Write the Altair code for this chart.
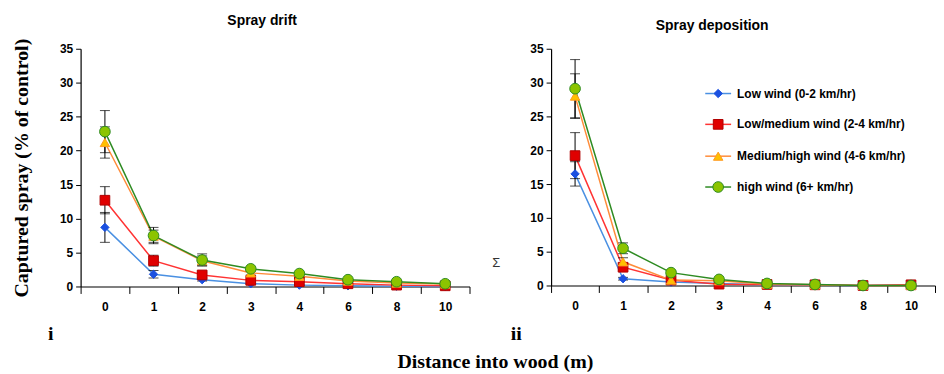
import altair as alt
import pandas as pd

distances = ["0", "1", "2", "3", "4", "6", "8", "10"]
series = ["Low wind (0-2 km/hr)", "Low/medium wind (2-4 km/hr)",
          "Medium/high wind (4-6 km/hr)", "high wind (6+ km/hr)"]

# Spray drift (panel i)
drift_low = [8.7, 1.8, 1.0, 0.4, 0.2, 0.1, 0.05, 0.0]
drift_lowmed = [12.7, 3.8, 1.7, 0.9, 0.7, 0.4, 0.2, 0.1]
drift_medhigh = [21.2, 7.4, 3.8, 2.0, 1.5, 0.8, 0.5, 0.35]
drift_high = [22.8, 7.5, 3.9, 2.6, 1.9, 1.0, 0.7, 0.4]
drift_low_err = [2.2, 0.55, 0.2, 0.1, 0.05, 0.05, 0.0, 0.0]
drift_lowmed_err = [2.0, 0.8, 0.4, 0.2, 0.1, 0.1, 0.05, 0.05]
drift_medhigh_err = [2.3, 0.9, 0.7, 0.3, 0.2, 0.1, 0.1, 0.05]
drift_high_err = [3.1, 1.2, 0.9, 0.3, 0.2, 0.1, 0.1, 0.1]

# Spray deposition (panel ii)
dep_low = [16.5, 1.0, 0.5, 0.3, 0.1, 0.05, 0.0, 0.1]
dep_lowmed = [19.2, 2.7, 0.8, 0.2, 0.15, 0.1, 0.0, 0.1]
dep_medhigh = [28.0, 3.5, 0.8, 0.7, 0.2, 0.1, 0.0, 0.0]
dep_high = [29.1, 5.5, 1.9, 0.9, 0.3, 0.15, 0.0, 0.0]
dep_low_err = [1.8, 0.2, 0.1, 0.05, 0.0, 0.0, 0.0, 0.0]
dep_lowmed_err = [3.4, 0.4, 0.2, 0.05, 0.0, 0.0, 0.0, 0.0]
dep_medhigh_err = [3.3, 0.6, 0.2, 0.1, 0.0, 0.0, 0.0, 0.0]
dep_high_err = [4.3, 0.8, 0.3, 0.2, 0.05, 0.0, 0.0, 0.0]

y_ticks = [0, 5, 10, 15, 20, 25, 30, 35]

styles = {
    series[0]: dict(line="#4A90E2", fill="#1A50E0", edge="#1A50E0", shape="diamond", size=70),
    series[1]: dict(line="#FF3333", fill="#E00000", edge="#B00000", shape="square", size=95),
    series[2]: dict(line="#FF8C3A", fill="#FFC000", edge="#FF9A20", shape="triangle-up", size=90),
    series[3]: dict(line="#2E8B22", fill="#8CC400", edge="#2E8B22", shape="circle", size=115),
}


def build_df(vals, errs):
    rows = []
    for s, v, e in zip(series, vals, errs):
        for d, vv, ee in zip(distances, v, e):
            rows.append(dict(d=d, s=s, v=vv, lo=max(vv - ee, 0), hi=vv + ee, e=ee))
    return pd.DataFrame(rows)


drift_df = build_df([drift_low, drift_lowmed, drift_medhigh, drift_high],
                    [drift_low_err, drift_lowmed_err, drift_medhigh_err, drift_high_err])
dep_df = build_df([dep_low, dep_lowmed, dep_medhigh, dep_high],
                  [dep_low_err, dep_lowmed_err, dep_medhigh_err, dep_high_err])

LABEL_FONT = "Liberation Sans"
SERIF = "Liberation Serif"


def x_enc():
    return alt.X("d:N", sort=distances,
                 scale=alt.Scale(type="band", paddingInner=0, paddingOuter=0),
                 axis=alt.Axis(title=None, labelAngle=0, tickBand="extent",
                               labelFont=LABEL_FONT, labelFontSize=12, labelFontWeight="bold",
                               labelColor="black", domainColor="black", tickColor="black",
                               tickSize=7, labelPadding=8, domainWidth=1.2))


def y_enc(field, ytitle):
    kwargs = dict(scale=alt.Scale(domain=[0, 35], nice=False, zero=True),
                  axis=alt.Axis(values=y_ticks, grid=False, labelFont=LABEL_FONT,
                                labelFontSize=12, labelFontWeight="bold", labelColor="black",
                                domainColor="black", tickColor="black", tickSize=5,
                                labelPadding=3, domainWidth=1.2,
                                titleFont=SERIF, titleFontSize=20, titleFontWeight="bold",
                                titleColor="black", titlePadding=28),
                  title=ytitle)
    return alt.Y(field, **kwargs)


def panel(df, ytitle):
    base = alt.Chart(df)
    layers = []
    for s in series:
        st = styles[s]
        layers.append(base.transform_filter(alt.datum.s == s).mark_line(
            color=st["line"], strokeWidth=1.5).encode(x=x_enc(), y=y_enc("v:Q", ytitle)))
    err = base.transform_filter(alt.datum.e > 0)
    layers.append(err.mark_rule(color="black", strokeWidth=1).encode(
        x=x_enc(), y=y_enc("lo:Q", ytitle), y2="hi:Q"))
    layers.append(err.mark_tick(color="black", size=10, thickness=1).encode(
        x=x_enc(), y=y_enc("lo:Q", ytitle)))
    layers.append(err.mark_tick(color="black", size=10, thickness=1).encode(
        x=x_enc(), y=y_enc("hi:Q", ytitle)))
    for s in series:
        st = styles[s]
        layers.append(base.transform_filter(alt.datum.s == s).mark_point(
            filled=True, shape=st["shape"], size=st["size"], color=st["fill"],
            stroke=st["edge"], strokeWidth=1, opacity=1).encode(
            x=x_enc(), y=y_enc("v:Q", ytitle)))
    return layers


one = pd.DataFrame({"k": [0]})

left_layers = panel(drift_df, "Captured spray (% of control)")
left_layers.append(alt.Chart(one).mark_text(text="i", font=SERIF, fontSize=20, fontWeight="bold",
                                            color="black").encode(x=alt.value(-30), y=alt.value(287)))
left_layers.append(alt.Chart(one).mark_text(text="Distance into wood (m)", font=SERIF, fontSize=20,
                                            fontWeight="bold", color="black").encode(
    x=alt.value(417), y=alt.value(315)))
left_layers.append(alt.Chart(one).mark_text(text="Σ", font=LABEL_FONT, fontSize=13,
                                            color="#333333").encode(x=alt.value(418), y=alt.value(215)))

left = alt.layer(*left_layers).properties(
    width=391, height=239,
    title=alt.TitleParams("Spray drift", font=LABEL_FONT, fontSize=14, fontWeight="bold",
                          color="black", dx=-13, offset=10))

right_layers = panel(dep_df, None)
right_layers.append(alt.Chart(one).mark_text(text="ii", font=SERIF, fontSize=20, fontWeight="bold",
                                             color="black").encode(x=alt.value(-35), y=alt.value(287)))
legend_rows = [45, 76, 108, 139]
for s, yy in zip(series, legend_rows):
    st = styles[s]
    right_layers.append(alt.Chart(one).mark_rule(color=st["line"], strokeWidth=1.5).encode(
        x=alt.value(155), x2=alt.value(181), y=alt.value(yy)))
    right_layers.append(alt.Chart(one).mark_point(
        filled=True, shape=st["shape"], size=st["size"], color=st["fill"], stroke=st["edge"],
        strokeWidth=1, opacity=1).encode(x=alt.value(168), y=alt.value(yy)))
    right_layers.append(alt.Chart(one).mark_text(
        text=s, align="left", baseline="middle", font=LABEL_FONT, fontSize=12,
        fontWeight="bold", color="black").encode(x=alt.value(187), y=alt.value(yy)))

right = alt.layer(*right_layers).properties(
    width=386, height=238,
    title=alt.TitleParams("Spray deposition", font=LABEL_FONT, fontSize=14, fontWeight="bold",
                          color="black", dx=-31, offset=10))

chart = alt.hconcat(left, right, spacing=82, bounds="flush").properties(
    padding={"left": 3, "top": 5, "right": 0, "bottom": 0}
).configure_view(stroke=None).configure_concat(spacing=82)

chart.save("out.html", embed_options={"renderer": "svg", "actions": False})
